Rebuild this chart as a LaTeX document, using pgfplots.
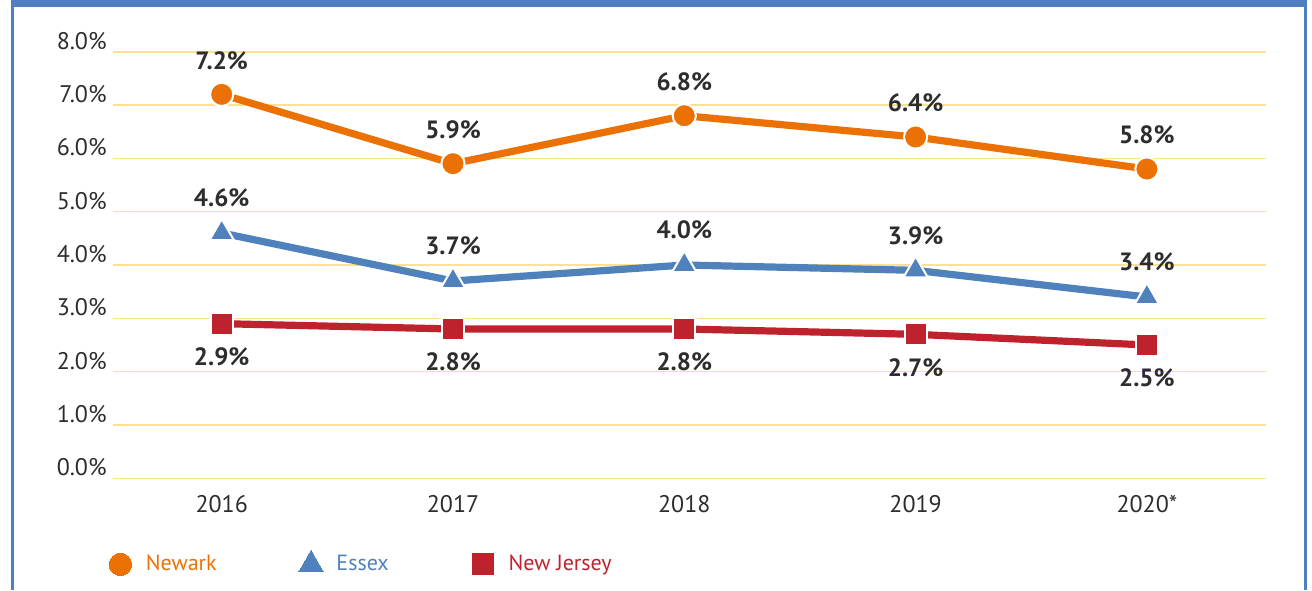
\documentclass[border=0pt]{standalone}
\usepackage{pgfplots}
\pgfplotsset{compat=1.18}
\usepackage{fontspec}
\setmainfont{PT Sans}
\definecolor{nworange}{RGB}{236,113,4}
\definecolor{esblue}{RGB}{79,129,189}
\definecolor{njred}{RGB}{190,35,45}
\definecolor{frameblue}{RGB}{79,127,193}
\definecolor{gridyellow}{RGB}{250,226,143}
\definecolor{textgray}{RGB}{45,45,45}
\begin{document}
\begin{tikzpicture}[x=1pt,y=1pt]
\path (0,0) rectangle (656,295);
\fill[frameblue] (5.5,291.3) rectangle (653.5,295);
\fill[frameblue] (5.5,0) rectangle (7,295);
\fill[frameblue] (652,0) rectangle (653.5,295);
\begin{axis}[
  at={(56.5pt,55.85pt)}, anchor=south west,
  scale only axis, width=576.5pt, height=213.3pt,
  xmin=-0.47, xmax=4.515, ymin=0, ymax=8,
  axis line style={draw=none}, major tick length=0pt,
  xtick={0,1,2,3,4}, xticklabels={2016,2017,2018,2019,2020*},
  ytick={0,1,2,3,4,5,6,7,8},
  yticklabel={\pgfmathprintnumber[fixed,fixed zerofill,precision=1]{\tick}\%},
  /pgf/number format/assume math mode=true,
  ymajorgrids, grid style={gridyellow, line width=0.8pt},
  tick label style={font=\fontsize{12}{14}\selectfont, text=textgray},
  yticklabel style={inner sep=0pt, anchor=base east, xshift=-3pt, yshift=1.2pt},
  xticklabel style={inner sep=0pt, anchor=north, yshift=-8.5pt},
  clip=false,
  nodes near coords={\pgfmathprintnumber[fixed,fixed zerofill,precision=1]{\pgfplotspointmeta}\%},
  every node near coord/.append style={font=\bfseries\fontsize{12.5}{14}\selectfont, text=textgray, anchor=center, inner sep=0pt},
  legend columns=3,
  legend image code/.code={\path (0pt,0pt) (18.5pt,0pt); \draw[#1] plot coordinates {(6pt,0pt)};},
  legend style={draw=none, fill=none, inner sep=0pt, outer sep=0pt,
    nodes={inner sep=0pt, outer sep=0pt},
    at={(-0.0043,-0.1985)}, anchor=west,
    font=\fontsize{11}{13}\selectfont,
    /tikz/every even column/.append style={column sep=41pt}},
]
\addplot[forget plot, nworange, line width=3.6pt, mark=*, mark size=5.8pt,
  mark options={draw=white, line width=1pt, fill=nworange},
  every node near coord/.append style={yshift=17pt}]
  coordinates {(0,7.2) (1,5.9) (2,6.8) (3,6.4) (4,5.8)};
\addplot[forget plot, esblue, line width=3.6pt, mark=triangle*, mark size=7pt,
  mark options={draw=white, line width=1pt, fill=esblue},
  every node near coord/.append style={yshift=17.5pt}]
  coordinates {(0,4.6) (1,3.7) (2,4.0) (3,3.9) (4,3.4)};
\addplot[forget plot, njred, line width=3.6pt, mark=square*, mark size=5.5pt,
  mark options={draw=white, line width=1pt, fill=njred},
  every node near coord/.append style={yshift=-16.5pt}]
  coordinates {(0,2.9) (1,2.8) (2,2.8) (3,2.7) (4,2.5)};
\addlegendimage{only marks, color=nworange, mark=*, mark size=5.6pt, mark options={draw=nworange, line width=0pt, fill=nworange}}
\addlegendentry{\textcolor{nworange}{Newark}}
\addlegendimage{only marks, color=esblue, mark=triangle*, mark size=7pt, mark options={draw=esblue, line width=0pt, fill=esblue}}
\addlegendentry{\textcolor{esblue}{Essex}}
\addlegendimage{only marks, color=njred, mark=square*, mark size=5.3pt, mark options={draw=njred, line width=0pt, fill=njred}}
\addlegendentry{\textcolor{njred}{New Jersey}}
\end{axis}
\end{tikzpicture}
\end{document}
